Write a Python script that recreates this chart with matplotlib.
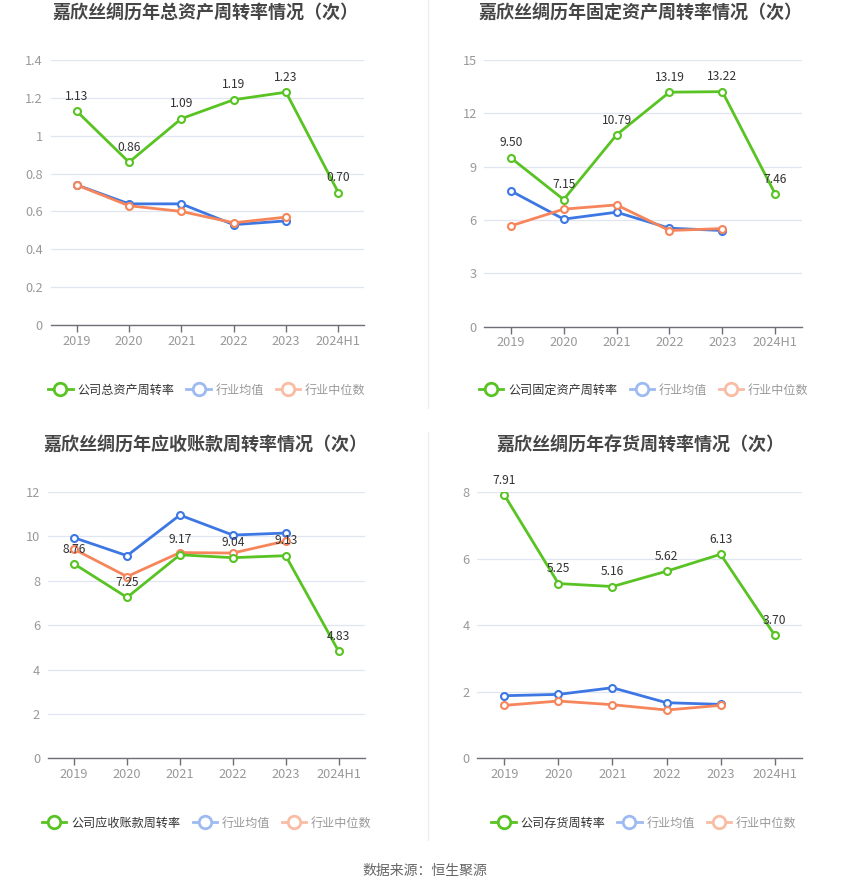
import matplotlib
matplotlib.use("Agg")
import matplotlib.pyplot as plt
from matplotlib.lines import Line2D

plt.rcParams['font.family'] = ['Noto Sans CJK SC', 'DejaVu Sans']

categories = ["2019", "2020", "2021", "2022", "2023", "2024H1"]
ind_years = ["2019", "2020", "2021", "2022", "2023"]

total_company = [1.13, 0.86, 1.09, 1.19, 1.23, 0.70]
total_avg = [0.74, 0.64, 0.64, 0.53, 0.55]
total_median = [0.74, 0.63, 0.60, 0.54, 0.57]

fixed_company = [9.50, 7.15, 10.79, 13.19, 13.22, 7.46]
fixed_avg = [7.64, 6.05, 6.44, 5.54, 5.41]
fixed_median = [5.67, 6.61, 6.85, 5.41, 5.52]

recv_company = [8.76, 7.25, 9.17, 9.04, 9.13, 4.83]
recv_avg = [9.94, 9.13, 10.96, 10.06, 10.15]
recv_median = [9.42, 8.19, 9.27, 9.25, 9.79]

inv_company = [7.91, 5.25, 5.16, 5.62, 6.13, 3.70]
inv_avg = [1.88, 1.92, 2.12, 1.67, 1.62]
inv_median = [1.59, 1.72, 1.61, 1.45, 1.59]

titles = ["嘉欣丝绸历年总资产周转率情况（次）", "嘉欣丝绸历年固定资产周转率情况（次）",
          "嘉欣丝绸历年应收账款周转率情况（次）", "嘉欣丝绸历年存货周转率情况（次）"]
company_names = ["公司总资产周转率", "公司固定资产周转率", "公司应收账款周转率", "公司存货周转率"]
avg_name = "行业均值"
median_name = "行业中位数"

yticks_list = [[0, 0.2, 0.4, 0.6, 0.8, 1.0, 1.2, 1.4], [0, 3, 6, 9, 12, 15],
               [0, 2, 4, 6, 8, 10, 12], [0, 2, 4, 6, 8]]
ytick_labels = [["0", "0.2", "0.4", "0.6", "0.8", "1", "1.2", "1.4"],
                ["0", "3", "6", "9", "12", "15"],
                ["0", "2", "4", "6", "8", "10", "12"],
                ["0", "2", "4", "6", "8"]]

GREEN = "#58c322"
BLUE = "#3c77e3"
ORANGE = "#f7855b"
PALE_BLUE = "#9dbaf2"
PALE_ORANGE = "#f9bca4"

W, H = 850, 891
fig = plt.figure(figsize=(W / 100, H / 100), dpi=100)
fig.patch.set_facecolor("white")

# axes boxes in pixels: left, right, top, bottom
boxes = [(50.5, 364.5, 60, 325), (484.3, 801.7, 60, 326.7),
         (47.7, 365, 492, 758.3), (477.3, 801.7, 492, 758.3)]
title_y = [13, 13, 445, 445]
title_x = [205, 640, 205, 640]
legend_y = [390, 390, 823, 823]
legend_x = [207, 644, 207, 644]

datasets = [(total_company, total_avg, total_median),
            (fixed_company, fixed_avg, fixed_median),
            (recv_company, recv_avg, recv_median),
            (inv_company, inv_avg, inv_median)]

for i, (comp, avg, med) in enumerate(datasets):
    l, r, t, b = boxes[i]
    ax = fig.add_axes([l / W, 1 - b / H, (r - l) / W, (b - t) / H])
    x_all = list(range(len(categories)))
    x_ind = list(range(len(ind_years)))
    ax.plot(x_ind, avg, color=BLUE, lw=2, marker='o', ms=5, mfc='white', mec=BLUE, mew=1.5, zorder=3)
    ax.plot(x_ind, med, color=ORANGE, lw=2, marker='o', ms=5, mfc='white', mec=ORANGE, mew=1.5, zorder=3)
    ax.plot(x_all, comp, color=GREEN, lw=2, marker='o', ms=5, mfc='white', mec=GREEN, mew=1.5, zorder=4)
    for xi, v in zip(x_all, comp):
        ax.annotate(f"{v:.2f}", (xi, v), xytext=(0, 6), textcoords='offset points',
                    ha='center', va='bottom', fontsize=8.7, color='#333333', zorder=5)
    ax.set_xlim(-0.5, len(categories) - 0.5)
    ax.set_ylim(yticks_list[i][0], yticks_list[i][-1])
    ax.set_xticks(x_all)
    ax.set_xticklabels(categories)
    ax.set_yticks(yticks_list[i])
    ax.set_yticklabels(ytick_labels[i])
    ax.grid(axis='y', color='#e0e6f1', lw=0.9)
    ax.set_axisbelow(True)
    for s in ['top', 'right', 'left']:
        ax.spines[s].set_visible(False)
    ax.spines['bottom'].set_color('#6e7079')
    ax.spines['bottom'].set_linewidth(1)
    ax.tick_params(axis='x', colors='#6e7079', length=5, width=1, labelcolor='#999999',
                   labelsize=9.2, pad=2)
    ax.tick_params(axis='y', length=0, labelcolor='#999999', labelsize=9.2, pad=5.5)
    ax.set_facecolor('white')

    fig.text(title_x[i] / W, 1 - title_y[i] / H, titles[i], ha='center', va='center',
             fontsize=13, fontweight='bold', color='#464646')

    handles = [
        Line2D([0], [0], color=GREEN, lw=2, marker='o', ms=9, mfc='white', mec=GREEN, mew=2),
        Line2D([0], [0], color=PALE_BLUE, lw=2, marker='o', ms=9, mfc='white', mec=PALE_BLUE, mew=2),
        Line2D([0], [0], color=PALE_ORANGE, lw=2, marker='o', ms=9, mfc='white', mec=PALE_ORANGE, mew=2),
    ]
    leg = fig.legend(handles, [company_names[i], avg_name, median_name],
                     loc='center', bbox_to_anchor=(legend_x[i] / W, 1 - legend_y[i] / H),
                     ncol=3, frameon=False, fontsize=8.7, handlelength=2.0,
                     handletextpad=0.4, columnspacing=1.0)
    for j, txt in enumerate(leg.get_texts()):
        txt.set_color('#333333' if j == 0 else '#999999')

# vertical dividers
fig.add_artist(Line2D([428 / W, 428 / W], [1 - 0 / H, 1 - 408 / H], color='#eeeeee', lw=1))
fig.add_artist(Line2D([428 / W, 428 / W], [1 - 432 / H, 1 - 840 / H], color='#eeeeee', lw=1))

fig.text(425 / W, 1 - 871 / H, "数据来源：恒生聚源", ha='center', va='center',
         fontsize=10, color='#666666')

fig.savefig("out.png", dpi=100, facecolor='white')
